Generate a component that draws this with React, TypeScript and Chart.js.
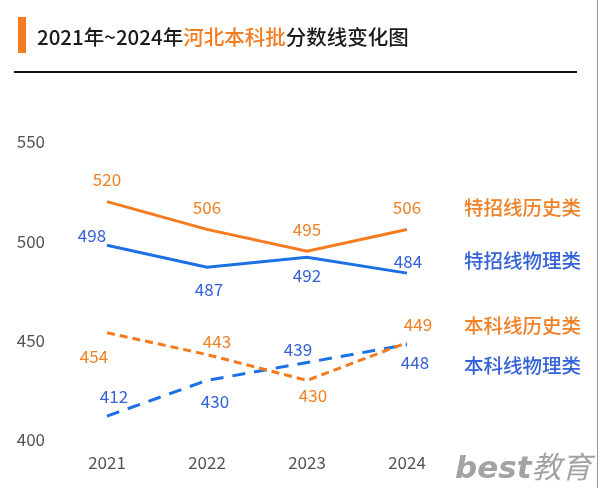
import React, { useEffect, useRef } from 'react';
import { Chart, registerables } from 'chart.js';

Chart.register(...registerables);

const years = ['2021', '2022', '2023', '2024'];
const tezhaoHistory = [520, 506, 495, 506];
const tezhaoPhysics = [498, 487, 492, 484];
const benkeHistory = [454, 443, 430, 449];
const benkePhysics = [412, 430, 439, 448];
const yTicks = [400, 450, 500, 550];
const seriesNames = ['特招线历史类', '特招线物理类', '本科线历史类', '本科线物理类'];
const titleParts = ['2021年~2024年', '河北本科批', '分数线变化图'];
const watermark = ['best', '教育'];

const ORANGE = '#F47B20';
const ORANGE_TEXT = '#EF8127';
const BLUE = '#1C70E6';
const BLUE_TEXT = '#3562D8';
const FONT = "'Noto Sans CJK SC', 'Noto Sans', sans-serif";

// label offsets (dx, dy) relative to each point, per dataset
const labelOffsets = [
  [[0, -22], [0, -22], [0, -22], [0, -22]],
  [[-15, -10], [2, 22], [0, 18], [1, -12]],
  [[-13, 24], [10, -13], [6, 15], [11, -18]],
  [[7, -20], [8, 21], [-9, -13], [8, 18]],
];
const labelColors = [ORANGE_TEXT, BLUE_TEXT, ORANGE_TEXT, BLUE_TEXT];

const valueLabels = {
  id: 'valueLabels',
  afterDatasetsDraw(chart: any) {
    const ctx = chart.ctx;
    chart.data.datasets.forEach((ds: any, i: number) => {
      const meta = chart.getDatasetMeta(i);
      meta.data.forEach((pt: any, j: number) => {
        const off = labelOffsets[i][j];
        ctx.save();
        ctx.font = `17px ${FONT}`;
        ctx.fillStyle = labelColors[i];
        ctx.textAlign = 'center';
        ctx.textBaseline = 'middle';
        ctx.fillText(String(ds.data[j]), pt.x + off[0], pt.y + off[1]);
        ctx.restore();
      });
    });
  },
};

export default function App() {
  const ref = useRef<HTMLCanvasElement | null>(null);

  useEffect(() => {
    if (!ref.current) return;
    const chart = new Chart(ref.current, {
      type: 'line',
      data: {
        labels: years,
        datasets: [
          { label: seriesNames[0], data: tezhaoHistory, borderColor: ORANGE, borderWidth: 3, pointRadius: 0, tension: 0 },
          { label: seriesNames[1], data: tezhaoPhysics, borderColor: BLUE, borderWidth: 3, pointRadius: 0, tension: 0 },
          { label: seriesNames[2], data: benkeHistory, borderColor: ORANGE, borderWidth: 3, pointRadius: 0, borderDash: [8, 5], tension: 0 },
          { label: seriesNames[3], data: benkePhysics, borderColor: BLUE, borderWidth: 3, pointRadius: 0, borderDash: [13, 9], tension: 0 },
        ],
      },
      options: {
        responsive: false,
        animation: false,
        layout: { padding: { left: 0, right: 143, top: 142, bottom: 0 } },
        plugins: { legend: { display: false }, tooltip: { enabled: false } },
        scales: {
          x: {
            offset: true,
            grid: { display: false, drawTicks: false },
            border: { display: false },
            ticks: { color: '#555', font: { size: 17, family: FONT }, padding: 12 },
            afterFit: (s: any) => { s.height = 48; },
          },
          y: {
            min: yTicks[0],
            max: yTicks[yTicks.length - 1],
            afterBuildTicks: (s: any) => { s.ticks = yTicks.map((v) => ({ value: v })); },
            grid: { display: false, drawTicks: false },
            border: { display: false },
            ticks: { color: '#555', font: { size: 17, family: FONT }, padding: 12 },
            afterFit: (s: any) => { s.width = 57; },
          },
        },
      },
      plugins: [valueLabels],
    } as any);
    return () => chart.destroy();
  }, []);

  const legendTops = [207, 260, 325, 365];
  const legendColors = [ORANGE_TEXT, BLUE_TEXT, ORANGE_TEXT, BLUE_TEXT];

  return (
    <div style={{ position: 'fixed', left: 0, top: 0, width: 600, height: 488, background: '#fff', overflow: 'hidden', fontFamily: FONT }}>
      <canvas ref={ref} width={600} height={488} style={{ position: 'absolute', left: 0, top: 0 }} />
      <div style={{ position: 'absolute', left: 18, top: 17, width: 8, height: 36, background: ORANGE }} />
      <div style={{ position: 'absolute', left: 37, top: 24, height: 24, lineHeight: '24px', fontSize: 20.5, fontWeight: 500, color: '#1a1a1a', whiteSpace: 'nowrap' }}>
        {titleParts[0]}<span style={{ color: ORANGE }}>{titleParts[1]}</span>{titleParts[2]}
      </div>
      <div style={{ position: 'absolute', left: 14, top: 71, width: 563, height: 2, background: '#111' }} />
      {seriesNames.map((n, i) => (
        <div key={n} style={{ position: 'absolute', left: 464, top: legendTops[i] - 12, height: 24, lineHeight: '24px', fontSize: 19.5, fontWeight: 500, color: legendColors[i], whiteSpace: 'nowrap' }}>{n}</div>
      ))}
      <div style={{ position: 'absolute', left: 455, top: 446, height: 38, lineHeight: '38px', color: '#a3a3a3', whiteSpace: 'nowrap' }}>
        <span style={{ fontFamily: "'DejaVu Sans', sans-serif", fontWeight: 700, fontStyle: 'italic', fontSize: 31 }}>{watermark[0]}</span>
        <span style={{ fontFamily: FONT, fontStyle: 'italic', fontSize: 30 }}>{watermark[1]}</span>
      </div>
      <div style={{ position: 'absolute', left: 597, top: 0, width: 1, height: 488, background: '#999' }} />
    </div>
  );
}
